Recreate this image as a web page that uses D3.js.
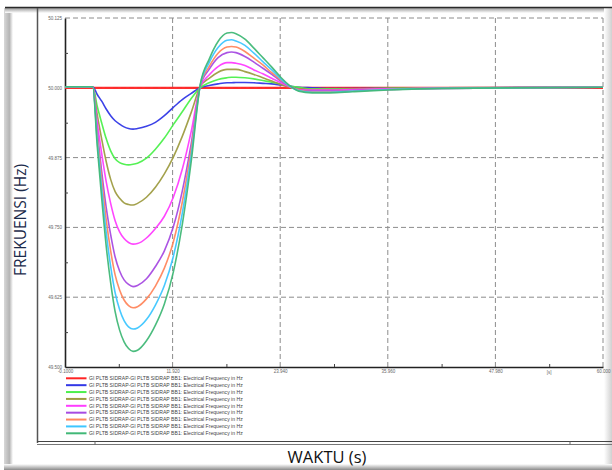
<!DOCTYPE html>
<html>
<head>
<meta charset="utf-8">
<script src="https://cdn.jsdelivr.net/npm/d3@7"></script>
<style>
  html, body { margin: 0; padding: 0; background: #fff; }
  svg { display: block; }
</style>
</head>
<body>
<svg id="chart" width="612" height="470"></svg>
<script>
// ---------------- DATA ----------------
const times = [-0.1, 3.0, 3.5, 4.0, 4.5, 5.0, 5.5, 6.0, 6.5, 7.0, 7.5, 8.0, 9.0, 10.0, 11.0, 12.0, 13.0, 14.0, 15.0, 16.0, 17.0, 18.0, 18.5, 19.0, 20.0, 21.0, 22.0, 23.0, 24.0, 25.0, 26.0, 27.5, 29.5, 32.0, 36.0, 42.0, 60.0];

const redTimes = [-0.1, 60.0];
const redValues = [50.000, 50.000];

const blueValues = [50.002, 50.002, 49.988, 49.976, 49.962, 49.950, 49.941, 49.935, 49.930, 49.927, 49.926, 49.927, 49.931, 49.938, 49.950, 49.965, 49.979, 49.990, 50.000, 50.004, 50.007, 50.009, 50.009, 50.0095, 50.0095, 50.009, 50.008, 50.007, 50.005, 50.003, 50.001, 50.000, 49.9986, 49.9986, 49.9992, 49.9998, 50.001];
const greenValues = [50.002, 50.002, 49.967, 49.937, 49.909, 49.887, 49.873, 49.866, 49.863, 49.862, 49.863, 49.865, 49.874, 49.890, 49.910, 49.934, 49.957, 49.981, 50.000, 50.009, 50.015, 50.018, 50.019, 50.019, 50.018, 50.016, 50.013, 50.010, 50.007, 50.003, 50.001, 49.998, 49.998, 49.998, 49.999, 50.000, 50.001];
const oliveValues = [50.002, 50.002, 49.952, 49.908, 49.868, 49.836, 49.814, 49.802, 49.794, 49.791, 49.790, 49.793, 49.804, 49.822, 49.846, 49.876, 49.913, 49.956, 50.002, 50.017, 50.028, 50.033, 50.033, 50.033, 50.029, 50.024, 50.018, 50.012, 50.006, 50.001, 49.998, 49.997, 49.997, 49.998, 49.999, 50.000, 50.001];
const magentaValues = [50.002, 50.002, 49.938, 49.882, 49.832, 49.793, 49.762, 49.742, 49.730, 49.723, 49.720, 49.721, 49.731, 49.748, 49.770, 49.804, 49.854, 49.922, 50.002, 50.023, 50.038, 50.045, 50.045, 50.044, 50.040, 50.032, 50.025, 50.017, 50.009, 50.002, 49.997, 49.996, 49.996, 49.997, 49.998, 50.000, 50.001];
const purpleValues = [50.002, 50.002, 49.922, 49.850, 49.786, 49.737, 49.697, 49.672, 49.656, 49.648, 49.644, 49.646, 49.658, 49.680, 49.708, 49.751, 49.815, 49.900, 50.003, 50.033, 50.054, 50.063, 50.064, 50.063, 50.056, 50.046, 50.035, 50.024, 50.012, 50.003, 49.996, 49.994, 49.994, 49.995, 49.997, 49.999, 50.001];
const coralValues = [50.002, 50.002, 49.913, 49.835, 49.764, 49.708, 49.665, 49.638, 49.620, 49.610, 49.606, 49.608, 49.622, 49.645, 49.677, 49.724, 49.795, 49.890, 50.004, 50.038, 50.062, 50.073, 50.074, 50.073, 50.065, 50.053, 50.041, 50.027, 50.014, 50.003, 49.996, 49.993, 49.993, 49.994, 49.997, 49.999, 50.001];
const skyValues = [50.002, 50.002, 49.905, 49.819, 49.741, 49.680, 49.633, 49.603, 49.583, 49.572, 49.568, 49.570, 49.585, 49.611, 49.646, 49.698, 49.775, 49.879, 50.004, 50.045, 50.072, 50.085, 50.086, 50.084, 50.076, 50.062, 50.047, 50.032, 50.016, 50.003, 49.995, 49.992, 49.992, 49.994, 49.997, 49.999, 50.001];
const seagreenValues = [50.002, 50.002, 49.896, 49.802, 49.717, 49.651, 49.599, 49.566, 49.545, 49.533, 49.528, 49.530, 49.547, 49.575, 49.613, 49.670, 49.755, 49.868, 50.005, 50.051, 50.083, 50.098, 50.099, 50.097, 50.087, 50.071, 50.054, 50.037, 50.019, 50.004, 49.994, 49.991, 49.991, 49.993, 49.996, 49.999, 50.001];

const legendLabel = "GI PLTB SIDRAP-GI PLTB SIDRAP BB1: Electrical Frequency in Hz";
const seriesColors = ["#ff2424", "#3238e6", "#4cf04c", "#9e9c42", "#ff3cff", "#a64be2", "#ff875e", "#3ec6ff", "#41b877"];

const xTickValues = [-0.1, 11.92, 23.94, 35.96, 47.98, 60.0];
const xTickLabels = ["-0.1000", "11.920", "23.940", "35.960", "47.980", "60.000"];
const xMinorTicks = [5.91, 17.93, 29.95, 41.97, 53.99];
const yTickValues = [49.5, 49.625, 49.75, 49.875, 50.0, 50.125];
const yTickLabels = ["49.500", "49.625", "49.750", "49.875", "50.000", "50.125"];
const yMinorTicks = [49.5625, 49.6875, 49.8125, 49.9375, 50.0625];

const yAxisTitle = "FREKUENSI (Hz)";
const xAxisTitle = "WAKTU (s)";
const xUnit = "[s]";

// ---------------- BUILD ----------------
const series = [
  { t: redTimes, v: redValues },
  { t: times, v: blueValues },
  { t: times, v: greenValues },
  { t: times, v: oliveValues },
  { t: times, v: magentaValues },
  { t: times, v: purpleValues },
  { t: times, v: coralValues },
  { t: times, v: skyValues },
  { t: times, v: seagreenValues }
].map((s, i) => ({ color: seriesColors[i], pts: s.t.map((tt, j) => [tt, s.v[j]]) }));

const svg = d3.select("#chart");
const W = 612, H = 470;
const plot = { left: 65, right: 603, top: 18, bottom: 367 };

const x = d3.scaleLinear().domain([-0.1, 60.0]).range([plot.left, plot.right]);
const y = d3.scaleLinear().domain([49.5, 50.125]).range([plot.bottom, plot.top]);

const defs = svg.append("defs");
const gl = defs.append("linearGradient").attr("id", "gLeft").attr("x1", 0).attr("x2", 1).attr("y1", 0).attr("y2", 0);
gl.append("stop").attr("offset", "0%").attr("stop-color", "#d8d8d8");
gl.append("stop").attr("offset", "60%").attr("stop-color", "#b4b4b4");
gl.append("stop").attr("offset", "100%").attr("stop-color", "#ffffff");
const gb = defs.append("linearGradient").attr("id", "gBottom").attr("x1", 0).attr("x2", 0).attr("y1", 0).attr("y2", 1);
gb.append("stop").attr("offset", "0%").attr("stop-color", "#ffffff");
gb.append("stop").attr("offset", "100%").attr("stop-color", "#8a8a8a");
const gr = defs.append("linearGradient").attr("id", "gRight").attr("x1", 0).attr("x2", 1).attr("y1", 0).attr("y2", 0);
gr.append("stop").attr("offset", "0%").attr("stop-color", "#ffffff");
gr.append("stop").attr("offset", "100%").attr("stop-color", "#d0d0d0");
const gt = defs.append("linearGradient").attr("id", "gTop").attr("x1", 0).attr("x2", 0).attr("y1", 0).attr("y2", 1);
gt.append("stop").attr("offset", "0%").attr("stop-color", "#9a9a9a");
gt.append("stop").attr("offset", "100%").attr("stop-color", "#ffffff");

svg.append("rect").attr("width", W).attr("height", H).attr("fill", "#fff");

// frame decorations
svg.append("rect").attr("x", 4).attr("y", 8).attr("width", 9).attr("height", 460).attr("fill", "url(#gLeft)");
svg.append("rect").attr("x", 5).attr("y", 8).attr("width", 607).attr("height", 5).attr("fill", "url(#gTop)");
svg.append("rect").attr("x", 604).attr("y", 8).attr("width", 8).attr("height", 460).attr("fill", "url(#gRight)");
svg.append("rect").attr("x", 4).attr("y", 464).attr("width", 608).attr("height", 6).attr("fill", "url(#gBottom)");
svg.append("line").attr("x1", 5).attr("x2", 612).attr("y1", 7.5).attr("y2", 7.5).attr("stroke", "#2a2a2a").attr("stroke-width", 1.6);
svg.append("line").attr("x1", 37.5).attr("x2", 37.5).attr("y1", 8).attr("y2", 443).attr("stroke", "#555").attr("stroke-width", 1.5);
svg.append("line").attr("x1", 37).attr("x2", 612).attr("y1", 441.5).attr("y2", 441.5).attr("stroke", "#444").attr("stroke-width", 1);
svg.append("line").attr("x1", 37).attr("x2", 612).attr("y1", 444.5).attr("y2", 444.5).attr("stroke", "#777").attr("stroke-width", 1);
[95, 570].forEach(px => svg.append("line").attr("x1", px).attr("x2", px).attr("y1", 441.5).attr("y2", 444.5).attr("stroke", "#666"));

// gridlines (dashed)
const grid = svg.append("g").attr("stroke", "#8c8c8c").attr("stroke-width", 1).attr("stroke-dasharray", "5,3").attr("fill", "none");
xTickValues.slice(1).forEach(v => grid.append("line").attr("x1", x(v)).attr("x2", x(v)).attr("y1", plot.top).attr("y2", plot.bottom));
yTickValues.slice(1).forEach(v => grid.append("line").attr("x1", plot.left).attr("x2", plot.right).attr("y1", y(v)).attr("y2", y(v)));

// axes
const xAxis = d3.axisBottom(x).tickValues(xTickValues).tickSize(0).tickPadding(3)
  .tickFormat((d, i) => xTickLabels[i]);
const gx = svg.append("g").attr("transform", `translate(0,${plot.bottom})`).call(xAxis);
gx.select(".domain").attr("stroke", "#222").attr("stroke-width", 1.6);
gx.selectAll("text").attr("font-family", "Liberation Sans, Arial, sans-serif").attr("font-size", 4.5).attr("fill", "#666");
const xMinor = d3.axisBottom(x).tickValues(xMinorTicks).tickSize(-3).tickFormat("");
const gxm = svg.append("g").attr("transform", `translate(0,${plot.bottom})`).call(xMinor);
gxm.select(".domain").remove();
gxm.selectAll("line").attr("stroke", "#444");
svg.append("text").attr("x", x(53.99)).attr("y", plot.bottom + 7).attr("text-anchor", "middle")
  .attr("font-family", "Liberation Sans, Arial, sans-serif").attr("font-size", 4.5).attr("fill", "#666").text(xUnit);

const yAxis = d3.axisLeft(y).tickValues(yTickValues).tickSize(0).tickPadding(3)
  .tickFormat((d, i) => yTickLabels[i]);
const gy = svg.append("g").attr("transform", `translate(${plot.left},0)`).call(yAxis);
gy.select(".domain").attr("stroke", "#222").attr("stroke-width", 1.6);
gy.selectAll("text").attr("font-family", "Liberation Sans, Arial, sans-serif").attr("font-size", 4.5).attr("fill", "#666");
const yMinor = d3.axisLeft(y).tickValues(yMinorTicks).tickSize(-3).tickFormat("");
const gym = svg.append("g").attr("transform", `translate(${plot.left},0)`).call(yMinor);
gym.select(".domain").remove();
gym.selectAll("line").attr("stroke", "#444");

// series
const line = d3.line().x(d => x(d[0])).y(d => y(d[1])).curve(d3.curveMonotoneX);
const gs = svg.append("g").attr("fill", "none");
series.forEach((s, i) => {
  gs.append("path").attr("d", line(s.pts)).attr("stroke", s.color)
    .attr("stroke-width", i === 0 ? 2.2 : 1.6).attr("stroke-linejoin", "round").attr("opacity", 0.95);
});

// legend
const lg = svg.append("g");
series.forEach((s, i) => {
  const ly = 378.3 + i * 6.875;
  lg.append("line").attr("x1", 66).attr("x2", 86.5).attr("y1", ly).attr("y2", ly)
    .attr("stroke", s.color).attr("stroke-width", 2);
  lg.append("text").attr("x", 89).attr("y", ly + 1.7)
    .attr("font-family", "Liberation Sans, Arial, sans-serif").attr("font-size", 5.1).attr("fill", "#444")
    .text(legendLabel);
});

// axis titles
svg.append("text").attr("transform", "translate(26,220) rotate(-90)").attr("text-anchor", "middle")
  .attr("font-family", "Open Sans, Lato, sans-serif").attr("font-size", 15.5).attr("fill", "#1b2a4a")
  .text(yAxisTitle);
svg.append("text").attr("x", 327).attr("y", 463).attr("text-anchor", "middle")
  .attr("font-family", "Open Sans, Lato, sans-serif").attr("font-size", 16.5).attr("fill", "#111")
  .text(xAxisTitle);
</script>
</body>
</html>
